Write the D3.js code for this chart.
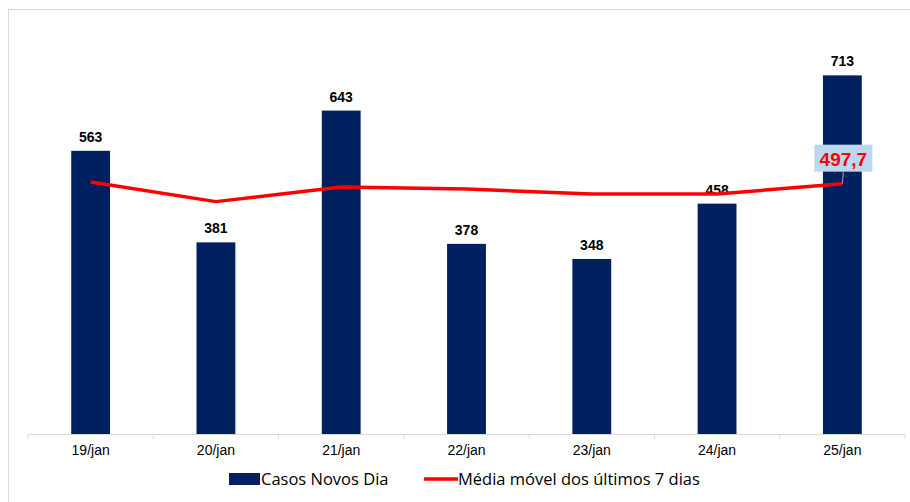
<!DOCTYPE html>
<html>
<head>
<meta charset="utf-8">
<script src="https://cdn.jsdelivr.net/npm/d3@7"></script>
<style>
  body { margin: 0; background: #fff; }
  svg { display: block; }
</style>
</head>
<body>
<div id="chart"></div>
<script>
/* DATA */
const days = ["19/jan", "20/jan", "21/jan", "22/jan", "23/jan", "24/jan", "25/jan"];
const newCases = [563, 381, 643, 378, 348, 458, 713];
const movingAvg = [501, 462, 491, 487, 477, 477, 497.7];
const seriesNames = ["Casos Novos Dia", "Média móvel dos últimos 7 dias"];

/* CONSTANTS */
const width = 910,
  height = 502,
  margin = { top: 32, bottom: 68, left: 28, right: 5 };

const fmt = v => String(v).replace(".", ",");

const svg = d3.select("#chart")
  .append("svg")
  .attr("width", width)
  .attr("height", height);

// outer frame
svg.append("rect")
  .attr("x", 8.5)
  .attr("y", 9.5)
  .attr("width", width)
  .attr("height", height)
  .attr("fill", "none")
  .attr("stroke", "#d9d9d9");

// scales
const xScale = d3.scaleBand()
  .domain(days)
  .range([margin.left, width - margin.right])
  .paddingInner(0.69)
  .paddingOuter(0.345);

const yScale = d3.scaleLinear()
  .domain([0, 800])
  .range([height - margin.bottom, height - margin.bottom - 800 * 0.503]);

const baseY = yScale(0);

// axis
const xAxis = d3.axisBottom(xScale).tickSize(0).tickPadding(11);
const xAxisGroup = svg.append("g")
  .attr("transform", `translate(0, ${baseY})`)
  .call(xAxis);
xAxisGroup.select(".domain").attr("stroke", "#d9d9d9");
xAxisGroup.selectAll("text")
  .attr("font-family", "Liberation Sans, Arial, sans-serif")
  .attr("font-size", 14)
  .attr("fill", "#000");

// category boundary ticks
const step = xScale.step();
svg.append("g")
  .selectAll("line")
  .data(d3.range(days.length + 1))
  .join("line")
  .attr("x1", i => margin.left + i * step)
  .attr("x2", i => margin.left + i * step)
  .attr("y1", baseY)
  .attr("y2", baseY + 5)
  .attr("stroke", "#d9d9d9");

// bars
svg.append("g")
  .selectAll("rect")
  .data(newCases)
  .join("rect")
  .attr("x", (d, i) => xScale(days[i]))
  .attr("y", d => yScale(d))
  .attr("width", xScale.bandwidth())
  .attr("height", d => baseY - yScale(d))
  .attr("fill", "#002060");

// bar labels
svg.append("g")
  .selectAll("text")
  .data(newCases)
  .join("text")
  .attr("x", (d, i) => xScale(days[i]) + xScale.bandwidth() / 2)
  .attr("y", d => yScale(d) - 9)
  .attr("text-anchor", "middle")
  .attr("font-family", "Liberation Sans, Arial, sans-serif")
  .attr("font-weight", "bold")
  .attr("font-size", 14)
  .attr("fill", "#000")
  .text(d => d);

// moving average line
const lineGen = d3.line()
  .x((d, i) => xScale(days[i]) + xScale.bandwidth() / 2)
  .y(d => yScale(d));

svg.append("path")
  .datum(movingAvg)
  .attr("d", lineGen)
  .attr("fill", "none")
  .attr("stroke", "#ff0000")
  .attr("stroke-width", 3.5)
  .attr("stroke-linejoin", "round");

// last value callout
const lastI = movingAvg.length - 1;
const lx = xScale(days[lastI]) + xScale.bandwidth() / 2;
const ly = yScale(movingAvg[lastI]);
svg.append("line")
  .attr("x1", lx)
  .attr("x2", lx + 1)
  .attr("y1", ly)
  .attr("y2", ly - 12)
  .attr("stroke", "#a6a6a6");
svg.append("rect")
  .attr("x", lx - 28)
  .attr("y", ly - 39)
  .attr("width", 58)
  .attr("height", 27)
  .attr("fill", "#bdd7ee");
svg.append("text")
  .attr("x", lx + 1)
  .attr("y", ly - 18)
  .attr("text-anchor", "middle")
  .attr("font-family", "Liberation Sans, Arial, sans-serif")
  .attr("font-weight", "bold")
  .attr("font-size", 19)
  .attr("fill", "#ff0000")
  .text(fmt(movingAvg[lastI]));

// legend
const legend = svg.append("g")
  .attr("font-family", "Open Sans, Noto Sans, sans-serif")
  .attr("font-size", 16.5)
  .attr("fill", "#000");

legend.append("rect")
  .attr("x", 229)
  .attr("y", 473)
  .attr("width", 31)
  .attr("height", 12)
  .attr("fill", "#002060");
legend.append("text")
  .attr("x", 261)
  .attr("y", 485)
  .text(seriesNames[0]);

legend.append("line")
  .attr("x1", 424)
  .attr("x2", 458)
  .attr("y1", 479)
  .attr("y2", 479)
  .attr("stroke", "#ff0000")
  .attr("stroke-width", 3.5);
legend.append("text")
  .attr("x", 458)
  .attr("y", 485)
  .text(seriesNames[1]);
</script>
</body>
</html>
